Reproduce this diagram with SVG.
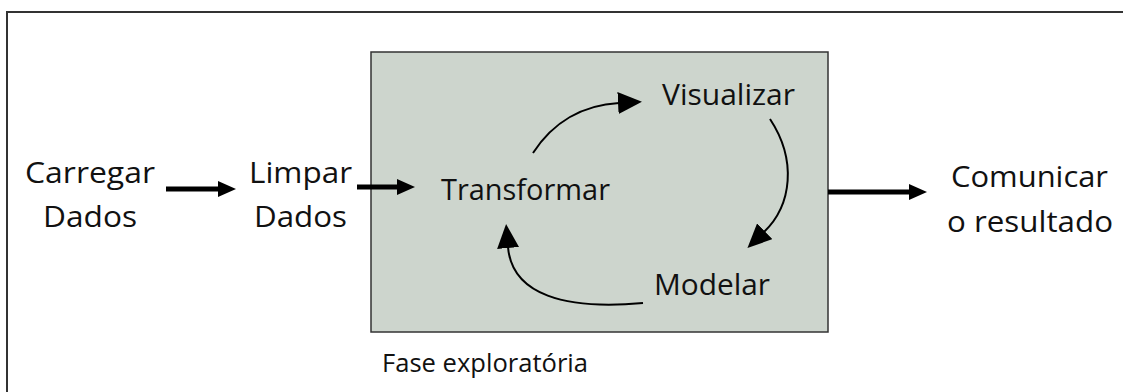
<svg xmlns="http://www.w3.org/2000/svg" width="1123" height="392" viewBox="0 0 1123 392">
  <defs>
    <style>
      .lbl { font-family: "Open Sans", "Noto Sans", sans-serif; font-size: 30px; fill: #111; }
      .cap { font-family: "Open Sans", "Noto Sans", sans-serif; font-size: 25px; fill: #111; }
      .thick { stroke: #000; stroke-width: 5; fill: none; }
      .thin { stroke: #000; stroke-width: 2; fill: none; }
    </style>
    <marker id="headThick" markerUnits="userSpaceOnUse" markerWidth="18" markerHeight="16" refX="4" refY="8" orient="auto">
      <path d="M0,0 L18,8 L0,16 z" fill="#000"/>
    </marker>
    <marker id="headThin" markerUnits="userSpaceOnUse" markerWidth="24" markerHeight="22" refX="1" refY="11" orient="auto">
      <path d="M0,0 L24,11 L0,22 z" fill="#000"/>
    </marker>
  </defs>
  <rect x="0" y="0" width="1123" height="392" fill="#fff"/>
  <rect id="frame" x="7" y="12" width="1130" height="400" fill="none" stroke="#333" stroke-width="2"/>

  <g id="fase">
    <rect x="371" y="52" width="457" height="280" fill="#cdd5cd" stroke="#333" stroke-width="1.5"/>
    <text class="cap" x="382" y="372" textLength="206" lengthAdjust="spacingAndGlyphs">Fase exploratória</text>
  </g>

  <g id="carregar">
    <text class="lbl" x="25" y="183" textLength="130" lengthAdjust="spacingAndGlyphs">Carregar</text>
    <text class="lbl" x="43" y="227" textLength="94" lengthAdjust="spacingAndGlyphs">Dados</text>
  </g>
  <g id="limpar">
    <text class="lbl" x="249" y="183" textLength="103" lengthAdjust="spacingAndGlyphs">Limpar</text>
    <text class="lbl" x="254" y="227" textLength="93" lengthAdjust="spacingAndGlyphs">Dados</text>
  </g>
  <g id="transformar">
    <text class="lbl" x="441" y="200" textLength="169" lengthAdjust="spacingAndGlyphs">Transformar</text>
  </g>
  <g id="visualizar">
    <text class="lbl" x="662" y="105" textLength="133" lengthAdjust="spacingAndGlyphs">Visualizar</text>
  </g>
  <g id="modelar">
    <text class="lbl" x="654" y="295" textLength="116" lengthAdjust="spacingAndGlyphs">Modelar</text>
  </g>
  <g id="comunicar">
    <text class="lbl" x="951" y="187" textLength="157" lengthAdjust="spacingAndGlyphs">Comunicar</text>
    <text class="lbl" x="947" y="232" textLength="166" lengthAdjust="spacingAndGlyphs">o resultado</text>
  </g>

  <g id="connectors">
    <line class="thick" x1="166" y1="189" x2="222" y2="189" marker-end="url(#headThick)"/>
    <line class="thick" x1="357" y1="187" x2="401" y2="187" marker-end="url(#headThick)"/>
    <line class="thick" x1="828" y1="192" x2="913" y2="192" marker-end="url(#headThick)"/>
    <path class="thin" d="M533,153 C553,122 583,105 619,103" marker-end="url(#headThin)"/>
    <path class="thin" d="M770,119 C797,160 792,205 764,232" marker-end="url(#headThin)"/>
    <path class="thin" d="M643,303 C565,310 512,295 508,247" marker-end="url(#headThin)"/>
  </g>
</svg>
